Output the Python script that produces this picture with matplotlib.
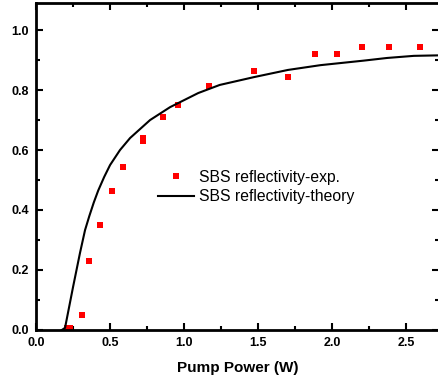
import numpy as np
import matplotlib
matplotlib.use("Agg")
import matplotlib.pyplot as plt
from matplotlib.ticker import MultipleLocator

plt.rcParams["font.family"] = ["Liberation Sans", "DejaVu Sans"]

# measured SBS reflectivity
exp_power = [0.21, 0.23, 0.31, 0.36, 0.43, 0.51, 0.59, 0.72, 0.72, 0.86, 0.96,
             1.17, 1.47, 1.70, 1.88, 2.03, 2.20, 2.38, 2.59]
exp_refl = [0.005, 0.005, 0.05, 0.23, 0.35, 0.465, 0.545, 0.63, 0.64, 0.71, 0.75,
            0.815, 0.865, 0.845, 0.92, 0.92, 0.945, 0.945, 0.945]

# theory curve
th_power = [0.175, 0.196, 0.25, 0.297, 0.331, 0.36, 0.39, 0.42, 0.46, 0.50, 0.567,
            0.635, 0.77, 0.905, 1.095, 1.24, 1.47, 1.70, 1.92, 2.21, 2.37, 2.55, 2.75]
th_refl = [0.0, 0.007, 0.143, 0.257, 0.333, 0.38, 0.425, 0.465, 0.51, 0.55, 0.60,
           0.64, 0.70, 0.743, 0.79, 0.817, 0.843, 0.867, 0.883, 0.898, 0.907, 0.914, 0.916]

fig = plt.figure(figsize=(4.39, 3.85), dpi=100)
ax = fig.add_axes([0.082, 0.143, 0.918, 0.849])

ax.plot(exp_power, exp_refl, "s", color="#ff0000", markersize=4.5,
        markeredgewidth=0, label="SBS reflectivity-exp.")
ax.plot(th_power, th_refl, "-", color="black", linewidth=1.5,
        label="SBS reflectivity-theory")

ax.set_xlim(0, 2.72)
ax.set_ylim(0, 1.09)
ax.xaxis.set_major_locator(MultipleLocator(0.5))
ax.xaxis.set_minor_locator(MultipleLocator(0.25))
ax.yaxis.set_major_locator(MultipleLocator(0.2))
ax.yaxis.set_minor_locator(MultipleLocator(0.1))
ax.xaxis.set_major_formatter(plt.FormatStrFormatter("%.1f"))
ax.yaxis.set_major_formatter(plt.FormatStrFormatter("%.1f"))

ax.tick_params(which="both", direction="in", top=True, right=True, width=1.5)
ax.tick_params(which="major", length=5, labelsize=9, pad=5)
ax.tick_params(which="minor", length=3)
for lab in ax.get_xticklabels() + ax.get_yticklabels():
    lab.set_fontweight("bold")
for sp in ax.spines.values():
    sp.set_linewidth(2)

ax.set_xlabel("Pump Power (W)", fontsize=11, fontweight="bold", labelpad=9)

ax.legend(loc="center left", bbox_to_anchor=(158 / 439, (385 - 187) / 385),
          bbox_transform=fig.transFigure, frameon=False,
          fontsize=11.3, handlelength=2.3, handletextpad=0.3, labelspacing=0.3,
          borderpad=0, borderaxespad=0)

fig.savefig("out.png", dpi=100)
